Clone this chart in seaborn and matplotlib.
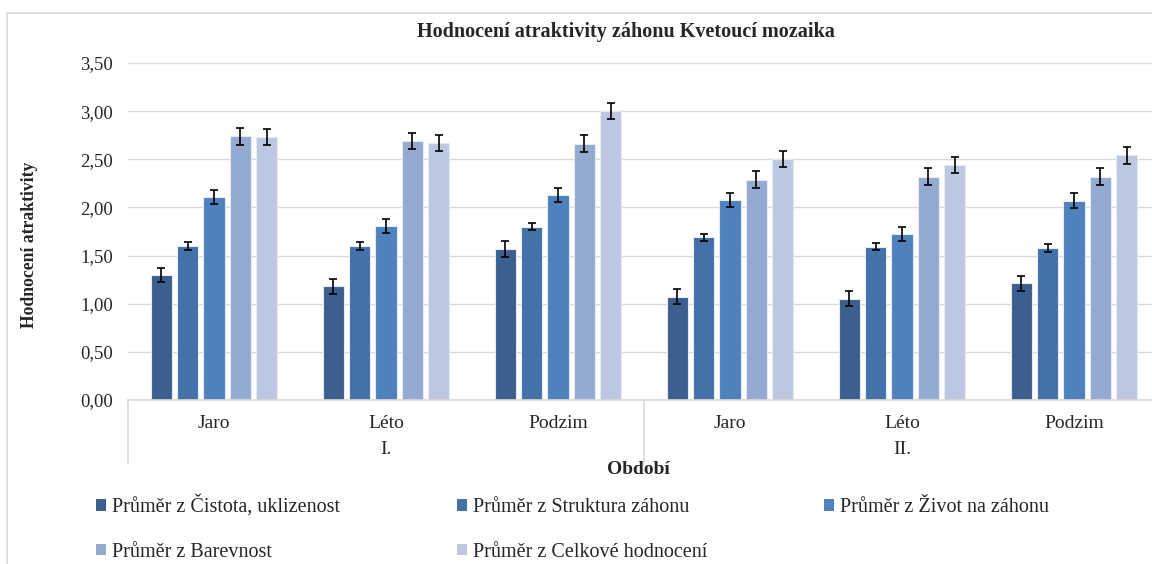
import pandas as pd
import matplotlib.pyplot as plt
import seaborn as sns
from matplotlib.patches import Rectangle
from matplotlib.ticker import FuncFormatter

# -----------------------------
# Data
# -----------------------------
periods = ["I.", "I.", "I.", "II.", "II.", "II."]
seasons = ["Jaro", "Léto", "Podzim", "Jaro", "Léto", "Podzim"]
series = [
    "Průměr z Čistota, uklizenost",
    "Průměr z Struktura záhonu",
    "Průměr z Život na záhonu",
    "Průměr z Barevnost",
    "Průměr z Celkové hodnocení",
]
cistota = [1.30, 1.18, 1.57, 1.07, 1.05, 1.21]
struktura = [1.60, 1.60, 1.80, 1.69, 1.59, 1.58]
zivot = [2.11, 1.81, 2.13, 2.08, 1.72, 2.07]
barevnost = [2.74, 2.69, 2.66, 2.29, 2.32, 2.32]
celkove = [2.73, 2.67, 3.00, 2.50, 2.44, 2.54]

err_cistota = [0.075, 0.078, 0.080, 0.078, 0.078, 0.080]
err_struktura = [0.040, 0.040, 0.036, 0.038, 0.036, 0.040]
err_zivot = [0.073, 0.075, 0.074, 0.073, 0.073, 0.076]
err_barevnost = [0.090, 0.085, 0.088, 0.090, 0.087, 0.090]
err_celkove = [0.085, 0.087, 0.083, 0.083, 0.083, 0.085]

colors = ["#3B5F8E", "#4472A8", "#4F81BD", "#95AAD1", "#BCC8E1"]

values = [cistota, struktura, zivot, barevnost, celkove]
errors = [err_cistota, err_struktura, err_zivot, err_barevnost, err_celkove]

cat_labels = [p + " " + s for p, s in zip(periods, seasons)]
rows = []
for name, vals in zip(series, values):
    for cat, v in zip(cat_labels, vals):
        rows.append({"Kategorie": cat, "Serie": name, "Hodnota": v})
df = pd.DataFrame(rows)

# -----------------------------
# Plot
# -----------------------------
sns.set_theme(style="white")
plt.rcParams["font.family"] = ["Liberation Serif", "DejaVu Serif"]

fig = plt.figure(figsize=(11.52, 5.64), dpi=100)
ax = fig.add_axes([128 / 1152, 1 - 400 / 564, 1032 / 1152, 337 / 564])

sns.barplot(data=df, x="Kategorie", y="Hodnota", hue="Serie", order=cat_labels,
            hue_order=series, palette=colors, saturation=1, width=0.765, gap=0.2,
            edgecolor="#E6EBF3", linewidth=0.8, errorbar=None, ax=ax,
            legend=False)

# error bars
for cont, err in zip(ax.containers, errors):
    xs = [b.get_x() + b.get_width() / 2 for b in cont]
    ys = [b.get_height() for b in cont]
    ax.errorbar(xs, ys, yerr=err, fmt="none", ecolor="black",
                elinewidth=1.2, capsize=3, capthick=1.2, zorder=5)

ax.set_ylim(0, 3.5)
ax.set_xlim(-0.5, 5.5)
ax.set_yticks([0, 0.5, 1, 1.5, 2, 2.5, 3, 3.5])
ax.yaxis.set_major_formatter(FuncFormatter(lambda v, p: f"{v:.2f}".replace(".", ",")))
ax.yaxis.grid(True, color="#D9D9D9", linewidth=1)
ax.set_axisbelow(True)
for s in ["left", "right", "top"]:
    ax.spines[s].set_visible(False)
ax.spines["bottom"].set_color("#D9D9D9")
ax.spines["bottom"].set_linewidth(1.2)

ax.set_xticks(range(6))
ax.set_xticklabels(seasons)
ax.tick_params(axis="x", length=0, pad=11, labelsize=14)
ax.tick_params(axis="y", length=0, pad=11, labelsize=13.5)
ax.set_xlabel("")
ax.set_ylabel("")

# period labels and separators
trans = ax.get_xaxis_transform()
ax.text(1, -0.148, "I.", transform=trans, ha="center", va="center", fontsize=14)
ax.text(4, -0.148, "II.", transform=trans, ha="center", va="center", fontsize=14)
for xv in [-0.5, 2.5, 5.5]:
    ax.plot([xv, xv], [0, -0.187], transform=trans, color="#D9D9D9",
            linewidth=1.2, clip_on=False)

fig.text(638 / 1152, 1 - 470 / 564, "Období", ha="center", va="center",
         fontsize=14, fontweight="bold")
fig.text(30 / 1152, 1 - 245 / 564, "Hodnocení atraktivity", rotation=90,
         ha="center", va="center", fontsize=12.7, fontweight="bold")
fig.text(626 / 1152, 1 - 32 / 564, "Hodnocení atraktivity záhonu Kvetoucí mozaika",
         ha="center", va="center", fontsize=14.5, fontweight="bold")

# legend (row-wise order)
handles = [Rectangle((0, 0), 1, 1, facecolor=c, edgecolor="none") for c in colors]
order = [0, 3, 1, 4, 2]
fig.legend([handles[i] for i in order], [series[i] for i in order],
           loc="upper left", bbox_to_anchor=(96 / 1152, 1 - 495 / 564),
           ncol=3, frameon=False, fontsize=14.5, handlelength=0.5,
           handleheight=0.5, handletextpad=0.3, columnspacing=5.8,
           labelspacing=1.27, borderpad=0, borderaxespad=0)

# chart frame
fig.patches.append(Rectangle((7 / 1152, -0.1), 1.2, 1 - 13 / 564 + 0.1,
                             transform=fig.transFigure, fill=False,
                             edgecolor="#D9D9D9", linewidth=1.2))

fig.savefig("out.png", dpi=100)
